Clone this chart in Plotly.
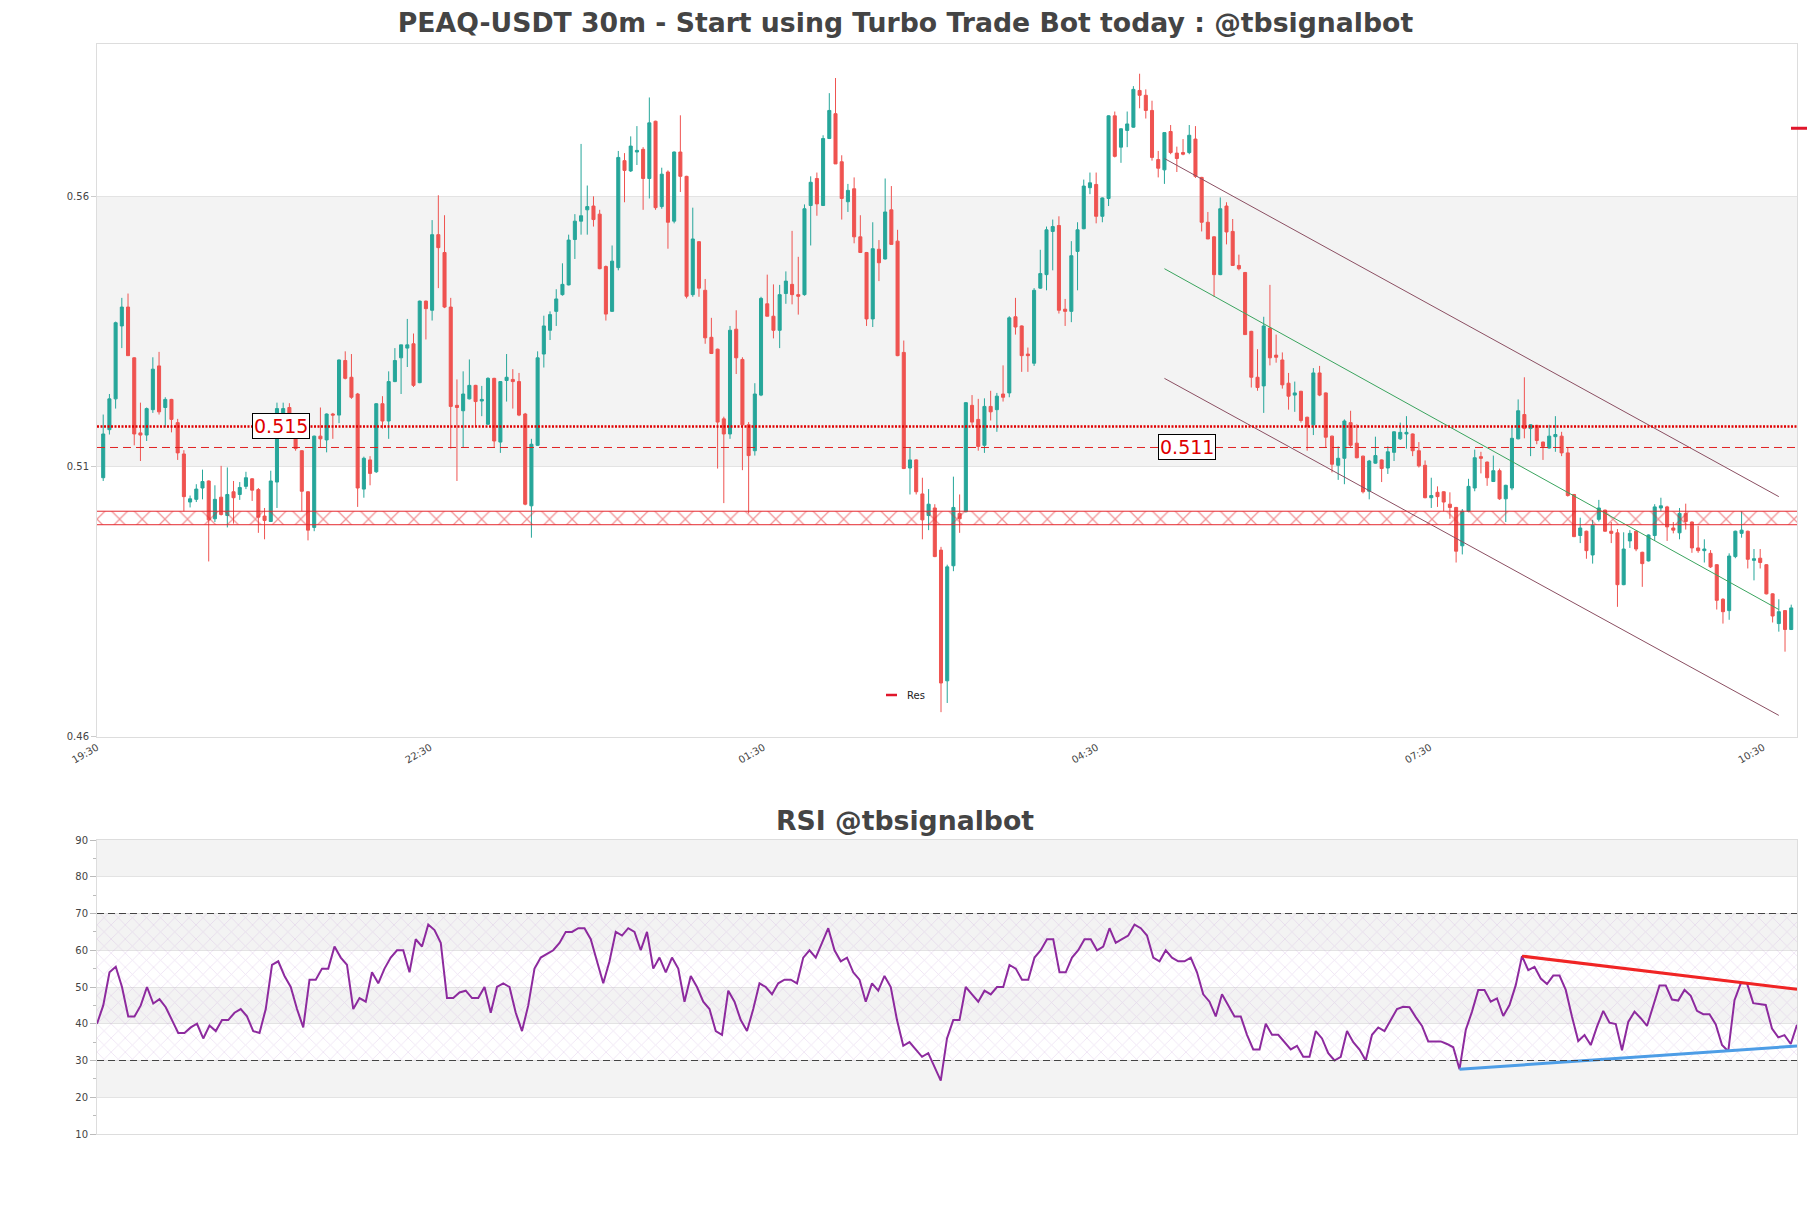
import plotly.graph_objects as go

# ---------------- data ----------------
title_text = "PEAQ-USDT 30m - Start using Turbo Trade Bot today : @tbsignalbot"
rsi_title = "RSI @tbsignalbot"

tick_labels = ["19:30", "22:30", "01:30", "04:30", "07:30", "10:30"]
tick_index = [-1.0, 52.7, 106.4, 160.1, 213.8, 267.5]

opens = [
0.5079, 0.5168, 0.5225, 0.5360, 0.5395, 0.5301, 0.5162, 0.5158, 0.5205, 0.5286,
0.5209, 0.5224, 0.5181, 0.5123, 0.5034, 0.5039, 0.5060, 0.5073, 0.5003, 0.5043,
0.5009, 0.5053, 0.5048, 0.5063, 0.5077, 0.5057, 0.5008, 0.4998, 0.5071, 0.5198,
0.5209, 0.5162, 0.5129, 0.5053, 0.4987, 0.5156, 0.5149, 0.5197, 0.5195, 0.5296,
0.5265, 0.5234, 0.5058, 0.5112, 0.5090, 0.5216, 0.5184, 0.5257, 0.5301, 0.5319,
0.5327, 0.5255, 0.5406, 0.5389, 0.5529, 0.5496, 0.5395, 0.5213, 0.5203, 0.5225,
0.5250, 0.5221, 0.5178, 0.5263, 0.5145, 0.5259, 0.5261, 0.5257, 0.5197, 0.5027,
0.5139, 0.5308, 0.5352, 0.5387, 0.5418, 0.5436, 0.5520, 0.5554, 0.5575, 0.5582,
0.5567, 0.5470, 0.5387, 0.5468, 0.5666, 0.5647, 0.5682, 0.5687, 0.5633, 0.5739,
0.5581, 0.5645, 0.5554, 0.5682, 0.5637, 0.5418, 0.5516, 0.5426, 0.5339, 0.5317,
0.5188, 0.5160, 0.5354, 0.5298, 0.5177, 0.5129, 0.5232, 0.5401, 0.5378, 0.5352,
0.5420, 0.5437, 0.5418, 0.5418, 0.5583, 0.5633, 0.5583, 0.5707, 0.5753, 0.5664,
0.5590, 0.5614, 0.5525, 0.5496, 0.5373, 0.5502, 0.5484, 0.5575, 0.5517, 0.5311,
0.5097, 0.5112, 0.5049, 0.5009, 0.5023, 0.4945, 0.4703, 0.4916, 0.5013, 0.5016,
0.5213, 0.5187, 0.5139, 0.5211, 0.5205, 0.5234, 0.5236, 0.5377, 0.5360, 0.5308,
0.5291, 0.5430, 0.5455, 0.5535, 0.5546, 0.5391, 0.5387, 0.5498, 0.5540, 0.5616,
0.5622, 0.5563, 0.5596, 0.5749, 0.5691, 0.5722, 0.5728, 0.5796, 0.5787, 0.5759,
0.5668, 0.5649, 0.5720, 0.5680, 0.5681, 0.5681, 0.5706, 0.5635, 0.5552, 0.5525,
0.5455, 0.5582, 0.5535, 0.5472, 0.5459, 0.5350, 0.5265, 0.5249, 0.5356, 0.5306,
0.5297, 0.5254, 0.5232, 0.5239, 0.5191, 0.5177, 0.5273, 0.5236, 0.5156, 0.5102,
0.5115, 0.5181, 0.5143, 0.5119, 0.5054, 0.5106, 0.5112, 0.5097, 0.5126, 0.5151,
0.5160, 0.5160, 0.5129, 0.5102, 0.5042, 0.5052, 0.5053, 0.5030, 0.5024, 0.4953,
0.5017, 0.5060, 0.5118, 0.5108, 0.5072, 0.5092, 0.5040, 0.5060, 0.5151, 0.5196,
0.5170, 0.5176, 0.5145, 0.5134, 0.5155, 0.5156, 0.5125, 0.5048, 0.4972, 0.4980,
0.4936, 0.5002, 0.5019, 0.4980, 0.4977, 0.4881, 0.4962, 0.4980, 0.4941, 0.4925,
0.4972, 0.5023, 0.5025, 0.4986, 0.4977, 0.5013, 0.4997, 0.4949, 0.4944, 0.4939,
0.4918, 0.4854, 0.4833, 0.4933, 0.4976, 0.4980, 0.4926, 0.4930, 0.4918, 0.4864,
0.4809, 0.4833, 0.4798,
]

highs = [
0.5196, 0.5234, 0.5368, 0.5412, 0.5420, 0.5302, 0.5218, 0.5209, 0.5302, 0.5312,
0.5228, 0.5225, 0.5188, 0.5130, 0.5046, 0.5067, 0.5094, 0.5074, 0.5065, 0.5101,
0.5098, 0.5073, 0.5071, 0.5090, 0.5078, 0.5060, 0.5023, 0.5092, 0.5218, 0.5218,
0.5217, 0.5166, 0.5130, 0.5054, 0.5157, 0.5209, 0.5198, 0.5199, 0.5298, 0.5313,
0.5308, 0.5236, 0.5118, 0.5119, 0.5217, 0.5230, 0.5276, 0.5319, 0.5325, 0.5373,
0.5346, 0.5407, 0.5407, 0.5556, 0.5602, 0.5565, 0.5412, 0.5261, 0.5276, 0.5298,
0.5251, 0.5249, 0.5265, 0.5264, 0.5258, 0.5308, 0.5280, 0.5273, 0.5199, 0.5151,
0.5313, 0.5379, 0.5387, 0.5428, 0.5476, 0.5529, 0.5567, 0.5697, 0.5620, 0.5600,
0.5575, 0.5472, 0.5509, 0.5684, 0.5680, 0.5711, 0.5730, 0.5691, 0.5783, 0.5740,
0.5653, 0.5648, 0.5683, 0.5750, 0.5638, 0.5579, 0.5517, 0.5447, 0.5375, 0.5318,
0.5192, 0.5360, 0.5389, 0.5302, 0.5182, 0.5254, 0.5414, 0.5455, 0.5437, 0.5436,
0.5461, 0.5536, 0.5488, 0.5585, 0.5637, 0.5644, 0.5713, 0.5791, 0.5819, 0.5676,
0.5623, 0.5635, 0.5565, 0.5497, 0.5552, 0.5519, 0.5633, 0.5619, 0.5538, 0.5333,
0.5135, 0.5113, 0.5079, 0.5058, 0.5030, 0.4951, 0.4918, 0.5081, 0.5048, 0.5219,
0.5232, 0.5225, 0.5226, 0.5240, 0.5236, 0.5287, 0.5378, 0.5412, 0.5361, 0.5320,
0.5430, 0.5501, 0.5544, 0.5557, 0.5563, 0.5410, 0.5517, 0.5552, 0.5631, 0.5644,
0.5644, 0.5598, 0.5750, 0.5757, 0.5726, 0.5757, 0.5804, 0.5827, 0.5798, 0.5777,
0.5684, 0.5718, 0.5732, 0.5692, 0.5706, 0.5732, 0.5730, 0.5636, 0.5571, 0.5526,
0.5598, 0.5589, 0.5558, 0.5492, 0.5460, 0.5351, 0.5317, 0.5377, 0.5436, 0.5344,
0.5311, 0.5273, 0.5257, 0.5240, 0.5192, 0.5282, 0.5286, 0.5237, 0.5157, 0.5137,
0.5187, 0.5203, 0.5178, 0.5120, 0.5112, 0.5155, 0.5113, 0.5137, 0.5165, 0.5181,
0.5193, 0.5161, 0.5145, 0.5111, 0.5079, 0.5063, 0.5054, 0.5052, 0.5025, 0.5021,
0.5077, 0.5131, 0.5127, 0.5109, 0.5120, 0.5096, 0.5066, 0.5174, 0.5224, 0.5265,
0.5178, 0.5177, 0.5146, 0.5177, 0.5193, 0.5164, 0.5135, 0.5049, 0.5005, 0.4981,
0.5001, 0.5038, 0.5020, 0.4997, 0.4984, 0.4978, 0.4982, 0.4981, 0.4942, 0.4974,
0.5030, 0.5042, 0.5027, 0.4997, 0.5023, 0.5031, 0.4998, 0.4990, 0.4965, 0.4945,
0.4919, 0.4856, 0.4939, 0.4981, 0.5017, 0.4981, 0.4947, 0.4947, 0.4919, 0.4865,
0.4854, 0.4834, 0.4844,
]

lows = [
0.5073, 0.5159, 0.5207, 0.5319, 0.5305, 0.5139, 0.5110, 0.5147, 0.5199, 0.5196,
0.5172, 0.5163, 0.5112, 0.5017, 0.5024, 0.5034, 0.5039, 0.4924, 0.4997, 0.5009,
0.4987, 0.4994, 0.5038, 0.5058, 0.5036, 0.4977, 0.4965, 0.4997, 0.5023, 0.5154,
0.5158, 0.5129, 0.5017, 0.4963, 0.4980, 0.5134, 0.5126, 0.5151, 0.5180, 0.5261,
0.5225, 0.5025, 0.5042, 0.5065, 0.5088, 0.5170, 0.5151, 0.5256, 0.5234, 0.5284,
0.5247, 0.5254, 0.5335, 0.5370, 0.5430, 0.5393, 0.5133, 0.5073, 0.5135, 0.5224,
0.5174, 0.5193, 0.5177, 0.5135, 0.5125, 0.5220, 0.5207, 0.5193, 0.5028, 0.4968,
0.5138, 0.5283, 0.5334, 0.5360, 0.5416, 0.5435, 0.5484, 0.5529, 0.5529, 0.5544,
0.5465, 0.5370, 0.5386, 0.5463, 0.5589, 0.5645, 0.5658, 0.5575, 0.5596, 0.5575,
0.5577, 0.5503, 0.5550, 0.5608, 0.5411, 0.5414, 0.5414, 0.5327, 0.5308, 0.5096,
0.5032, 0.5151, 0.5271, 0.5093, 0.5013, 0.5120, 0.5230, 0.5378, 0.5337, 0.5319,
0.5401, 0.5400, 0.5381, 0.5416, 0.5509, 0.5564, 0.5582, 0.5706, 0.5660, 0.5557,
0.5571, 0.5513, 0.5495, 0.5360, 0.5358, 0.5443, 0.5483, 0.5511, 0.5304, 0.5095,
0.5048, 0.5048, 0.4965, 0.4982, 0.4932, 0.4645, 0.4662, 0.4906, 0.4977, 0.5015,
0.5174, 0.5129, 0.5125, 0.5185, 0.5164, 0.5220, 0.5228, 0.5344, 0.5275, 0.5275,
0.5286, 0.5429, 0.5426, 0.5463, 0.5383, 0.5360, 0.5367, 0.5426, 0.5539, 0.5604,
0.5550, 0.5552, 0.5582, 0.5672, 0.5662, 0.5691, 0.5727, 0.5763, 0.5744, 0.5666,
0.5635, 0.5623, 0.5678, 0.5645, 0.5676, 0.5678, 0.5634, 0.5535, 0.5521, 0.5414,
0.5454, 0.5511, 0.5471, 0.5463, 0.5344, 0.5246, 0.5240, 0.5199, 0.5287, 0.5292,
0.5244, 0.5205, 0.5201, 0.5181, 0.5129, 0.5158, 0.5230, 0.5135, 0.5089, 0.5075,
0.5067, 0.5135, 0.5115, 0.5050, 0.5039, 0.5105, 0.5071, 0.5086, 0.5110, 0.5149,
0.5133, 0.5119, 0.5098, 0.5041, 0.5023, 0.5025, 0.5017, 0.5003, 0.4922, 0.4937,
0.5015, 0.5054, 0.5087, 0.5064, 0.5071, 0.5038, 0.4997, 0.5056, 0.5150, 0.5152,
0.5119, 0.5141, 0.5112, 0.5133, 0.5127, 0.5119, 0.5044, 0.4969, 0.4958, 0.4929,
0.4920, 0.4998, 0.4979, 0.4958, 0.4840, 0.4880, 0.4949, 0.4943, 0.4877, 0.4924,
0.4962, 0.5017, 0.4962, 0.4976, 0.4965, 0.4983, 0.4940, 0.4940, 0.4922, 0.4912,
0.4835, 0.4809, 0.4816, 0.4930, 0.4968, 0.4911, 0.4889, 0.4911, 0.4863, 0.4811,
0.4794, 0.4757, 0.4797,
]

closes = [
0.5160, 0.5225, 0.5366, 0.5395, 0.5305, 0.5160, 0.5158, 0.5207, 0.5280, 0.5201,
0.5224, 0.5187, 0.5125, 0.5044, 0.5040, 0.5058, 0.5072, 0.5001, 0.5039, 0.5011,
0.5048, 0.5042, 0.5061, 0.5079, 0.5056, 0.5006, 0.5000, 0.5073, 0.5207, 0.5207,
0.5162, 0.5133, 0.5054, 0.4982, 0.5156, 0.5151, 0.5197, 0.5195, 0.5297, 0.5263,
0.5228, 0.5060, 0.5115, 0.5087, 0.5216, 0.5184, 0.5257, 0.5296, 0.5325, 0.5325,
0.5250, 0.5406, 0.5392, 0.5529, 0.5505, 0.5395, 0.5211, 0.5209, 0.5234, 0.5250,
0.5220, 0.5224, 0.5263, 0.5147, 0.5257, 0.5265, 0.5257, 0.5195, 0.5030, 0.5141,
0.5301, 0.5360, 0.5381, 0.5410, 0.5437, 0.5519, 0.5554, 0.5564, 0.5581, 0.5557,
0.5466, 0.5382, 0.5480, 0.5672, 0.5648, 0.5693, 0.5685, 0.5633, 0.5736, 0.5579,
0.5641, 0.5552, 0.5682, 0.5637, 0.5415, 0.5521, 0.5430, 0.5338, 0.5309, 0.5182,
0.5160, 0.5352, 0.5301, 0.5177, 0.5120, 0.5234, 0.5411, 0.5378, 0.5352, 0.5418,
0.5443, 0.5418, 0.5415, 0.5577, 0.5626, 0.5586, 0.5707, 0.5759, 0.5660, 0.5596,
0.5611, 0.5525, 0.5496, 0.5373, 0.5503, 0.5477, 0.5571, 0.5511, 0.5305, 0.5096,
0.5112, 0.5053, 0.5001, 0.5030, 0.4933, 0.4699, 0.4914, 0.5024, 0.5003, 0.5218,
0.5182, 0.5137, 0.5211, 0.5201, 0.5230, 0.5228, 0.5375, 0.5358, 0.5305, 0.5305,
0.5426, 0.5457, 0.5538, 0.5544, 0.5389, 0.5387, 0.5490, 0.5538, 0.5619, 0.5625,
0.5563, 0.5597, 0.5749, 0.5674, 0.5725, 0.5734, 0.5798, 0.5787, 0.5759, 0.5672,
0.5652, 0.5718, 0.5681, 0.5670, 0.5678, 0.5713, 0.5637, 0.5552, 0.5521, 0.5455,
0.5577, 0.5534, 0.5472, 0.5466, 0.5344, 0.5265, 0.5246, 0.5360, 0.5301, 0.5302,
0.5251, 0.5230, 0.5236, 0.5185, 0.5174, 0.5273, 0.5232, 0.5154, 0.5104, 0.5115,
0.5184, 0.5139, 0.5116, 0.5053, 0.5110, 0.5120, 0.5096, 0.5127, 0.5164, 0.5163,
0.5163, 0.5129, 0.5101, 0.5042, 0.5046, 0.5044, 0.5034, 0.5024, 0.4943, 0.5017,
0.5063, 0.5116, 0.5115, 0.5079, 0.5092, 0.5040, 0.5065, 0.5152, 0.5203, 0.5170,
0.5177, 0.5148, 0.5137, 0.5156, 0.5159, 0.5125, 0.5046, 0.4970, 0.4986, 0.4944,
0.4991, 0.5023, 0.4980, 0.4976, 0.4881, 0.4947, 0.4976, 0.4947, 0.4920, 0.4973,
0.5025, 0.5027, 0.4988, 0.4982, 0.5013, 0.4998, 0.4949, 0.4944, 0.4947, 0.4914,
0.4852, 0.4831, 0.4934, 0.4980, 0.4982, 0.4928, 0.4929, 0.4922, 0.4864, 0.4823,
0.4831, 0.4798, 0.4838,
]

rsi = [
40, 45, 54, 55.5, 50, 42, 42, 45, 50, 45.5,
46.7, 44.5, 41, 37.5, 37.5, 39, 40, 36, 39.5, 38,
41, 41, 43, 44, 42, 38, 37.5, 44, 56, 57,
53, 50, 44, 39, 52, 52, 55, 55, 61, 58,
56, 44, 47, 46, 54, 51, 55, 58, 60, 60,
54, 63, 61, 67, 65.5, 62, 47, 47, 48.5, 49,
47, 47, 50, 43, 50, 51, 50, 43, 38, 45,
55, 58, 59, 60, 62, 65, 65, 66, 66, 63,
57, 51, 57, 65, 64, 66, 65, 60, 65, 55,
58, 54, 58, 55, 46, 53, 50, 46, 44, 38,
37, 49, 46, 41, 38, 44, 51, 50, 48, 51,
52, 52, 51, 58, 60, 58, 62, 66, 60, 57,
58, 54, 52, 46, 51, 49, 53, 50, 41, 34,
35, 33, 31, 32, 28, 24.5, 36, 41, 41, 50,
48, 46, 49, 48, 50, 50, 56, 55, 52, 52,
58, 60, 63, 63, 54, 54, 58, 60, 63, 63,
60, 61, 66, 62, 63, 64, 67, 66, 64, 58,
57, 60, 58, 57, 57, 58, 54, 48, 46, 42,
48, 45, 42, 42, 37, 33, 33, 40, 37, 37,
35, 33, 34, 31, 31, 38, 36, 32, 30, 31,
38, 35, 33, 30, 37, 39, 38, 41, 44, 44.6,
44.5, 41.8, 39.4, 35.2, 35.3, 35.2, 34.5, 33.6, 27.6, 38.3,
43.3, 49.2, 49.2, 46, 46.9, 42.1, 45.1, 50.5, 58.4, 54.6,
55.5, 52.3, 50.8, 53.1, 53.1, 49.2, 41.9, 35.3, 36.9, 34.2,
39.2, 43.5, 40.3, 39.9, 32.8, 40.5, 43.3, 41.5, 39.4, 44.6,
50.4, 50.4, 46.6, 46.3, 49.2, 47.6, 43.5, 42.6, 42.6, 39.8,
34.2, 32.5, 46.4, 51, 51, 45.6, 45.4, 45.1, 38.7, 36.3,
36.9, 34.5, 39.7,
]

# levels / channel / trendlines
level_dotted = 0.5174
level_dashed = 0.5135
level_labels = ["0.515", "0.511"]
label_x = [28.6, 174.7]
zone_top = 0.5017
zone_bottom = 0.4992
res_level = 0.5726
channel_x = [171, 270]
channel_upper = [0.5670, 0.5044]
channel_mid = [0.5466, 0.4835]
channel_lower = [0.5263, 0.4639]
rsi_res_x = [228, 272]
rsi_res_y = [58.4, 49.4]
rsi_sup_x = [218, 272]
rsi_sup_y = [27.6, 33.95]

# ---------------- figure ----------------
n = len(closes)
idx = list(range(n))
FONT = "DejaVu Sans"
X_MAIN_RANGE = [-1.0, n - 1 + 0.93]
Y_MAIN_RANGE = [0.4599, 0.5882]

fig = go.Figure()

# hatched red zone
fig.add_trace(go.Scatter(
    x=[-10, n + 10, n + 10, -10, -10],
    y=[zone_top, zone_top, zone_bottom, zone_bottom, zone_top],
    fill="toself", mode="lines", line=dict(width=0),
    fillcolor="rgba(0,0,0,0)",
    fillpattern=dict(shape="x", fgcolor="#e4282e", bgcolor="rgba(0,0,0,0)",
                     size=16, solidity=0.15),
    hoverinfo="skip", showlegend=False, xaxis="x", yaxis="y"))

# RSI hatch 30-70
fig.add_trace(go.Scatter(
    x=[-10, n + 10, n + 10, -10, -10],
    y=[70, 70, 30, 30, 70],
    fill="toself", mode="lines", line=dict(width=0),
    fillcolor="rgba(0,0,0,0)",
    fillpattern=dict(shape="x", fgcolor="rgba(195,155,215,0.6)", bgcolor="rgba(0,0,0,0)",
                     size=10, solidity=0.15),
    hoverinfo="skip", showlegend=False, xaxis="x2", yaxis="y2"))

# channel lines
fig.add_trace(go.Scatter(x=channel_x, y=channel_upper, mode="lines",
                         line=dict(color="#8b4f62", width=1), showlegend=False,
                         xaxis="x", yaxis="y", hoverinfo="skip"))
fig.add_trace(go.Scatter(x=channel_x, y=channel_lower, mode="lines",
                         line=dict(color="#8b4f62", width=1), showlegend=False,
                         xaxis="x", yaxis="y", hoverinfo="skip"))
fig.add_trace(go.Scatter(x=channel_x, y=channel_mid, mode="lines",
                         line=dict(color="#3aa45e", width=1), showlegend=False,
                         xaxis="x", yaxis="y", hoverinfo="skip"))

# candles
fig.add_trace(go.Candlestick(
    x=idx, open=opens, high=highs, low=lows, close=closes,
    increasing=dict(line=dict(color="#26a69a", width=1), fillcolor="#26a69a"),
    decreasing=dict(line=dict(color="#ef5350", width=1), fillcolor="#ef5350"),
    whiskerwidth=0, showlegend=False, xaxis="x", yaxis="y"))

# RSI line and trendlines
fig.add_trace(go.Scatter(x=idx, y=rsi, mode="lines",
                         line=dict(color="#8d2a9e", width=2), showlegend=False,
                         xaxis="x2", yaxis="y2"))
fig.add_trace(go.Scatter(x=rsi_res_x, y=rsi_res_y, mode="lines",
                         line=dict(color="#f02424", width=3), showlegend=False,
                         xaxis="x2", yaxis="y2"))
fig.add_trace(go.Scatter(x=rsi_sup_x, y=rsi_sup_y, mode="lines",
                         line=dict(color="#4d9de6", width=3), showlegend=False,
                         xaxis="x2", yaxis="y2"))

shapes = []
shapes.append(dict(type="rect", xref="x domain", yref="y", x0=0, x1=1, y0=0.51, y1=0.56,
                   fillcolor="#f3f3f3", line_width=0, layer="below"))
for lo in [80, 60, 40, 20]:
    shapes.append(dict(type="rect", xref="x2 domain", yref="y2", x0=0, x1=1, y0=lo, y1=lo + 10,
                       fillcolor="#f3f3f3", line_width=0, layer="below"))
for yv in [zone_top, zone_bottom]:
    shapes.append(dict(type="line", xref="x domain", yref="y", x0=0, x1=1, y0=yv, y1=yv,
                       line=dict(color="#e4282e", width=1)))
shapes.append(dict(type="line", xref="x domain", yref="y", x0=0, x1=1,
                   y0=level_dotted, y1=level_dotted,
                   line=dict(color="#e00000", width=2.5, dash="2px,1.5px")))
shapes.append(dict(type="line", xref="x domain", yref="y", x0=0, x1=1,
                   y0=level_dashed, y1=level_dashed,
                   line=dict(color="#e02020", width=1, dash="8px,5px")))
for yv in [70, 30]:
    shapes.append(dict(type="line", xref="x2 domain", yref="y2", x0=0, x1=1, y0=yv, y1=yv,
                       line=dict(color="#444444", width=1.2, dash="7px,4px")))

W, H = 1811, 1208
ML, MR, MT, MB = 97, 14, 44, 74
PW, PH = W - ML - MR, H - MT - MB
def px_x(px):
    return (px - ML) / PW
def px_y(py):
    return (H - MB - py) / PH

main_dom = [px_y(737), 1.0]
rsi_dom = [0.0, px_y(840)]

y_res_paper = main_dom[0] + (res_level - Y_MAIN_RANGE[0]) / (Y_MAIN_RANGE[1] - Y_MAIN_RANGE[0]) * (main_dom[1] - main_dom[0])
shapes.append(dict(type="line", xref="paper", yref="paper", x0=px_x(1791), x1=px_x(1807),
                   y0=y_res_paper, y1=y_res_paper, line=dict(color="#e0162b", width=3)))
shapes.append(dict(type="line", xref="paper", yref="paper", x0=px_x(886), x1=px_x(897),
                   y0=px_y(695), y1=px_y(695), line=dict(color="#e0162b", width=2.5)))

annotations = [
    dict(x=label_x[0], y=level_dotted, xref="x", yref="y", text=level_labels[0],
         showarrow=False, font=dict(family=FONT, size=19, color="#e00000"),
         bgcolor="white", bordercolor="black", borderwidth=1, borderpad=1),
    dict(x=label_x[1], y=level_dashed, xref="x", yref="y", text=level_labels[1],
         showarrow=False, font=dict(family=FONT, size=19, color="#e00000"),
         bgcolor="white", bordercolor="black", borderwidth=1, borderpad=1),
    dict(x=px_x(905), y=px_y(820), xref="paper", yref="paper", text="<b>" + rsi_title + "</b>",
         showarrow=False, font=dict(family=FONT, size=26.7, color="#444444"),
         xanchor="center", yanchor="middle"),
    dict(x=px_x(905), y=px_y(695), xref="paper", yref="paper", text="Res",
         showarrow=False, font=dict(family=FONT, size=10, color="#222222"),
         xanchor="left", yanchor="middle"),
]

axis_font = dict(family=FONT, size=10, color="#444444")

fig.update_layout(
    width=W, height=H,
    margin=dict(l=ML, r=MR, t=MT, b=MB),
    paper_bgcolor="white", plot_bgcolor="white",
    showlegend=False,
    title=dict(text="<b>" + title_text + "</b>", x=0.5, xanchor="center",
               y=1 - 23 / H, yanchor="middle", yref="container",
               font=dict(family=FONT, size=26.7, color="#444444")),
    xaxis=dict(domain=[0, 1], anchor="y", range=X_MAIN_RANGE,
               rangeslider=dict(visible=False),
               tickmode="array", tickvals=tick_index, ticktext=tick_labels,
               tickangle=-30, tickfont=axis_font, showgrid=False, zeroline=False,
               showline=True, mirror=True, linecolor="#dddddd", ticks=""),
    yaxis=dict(domain=main_dom, anchor="x", range=Y_MAIN_RANGE,
               tickmode="array", tickvals=[0.46, 0.51, 0.56], ticktext=["0.46", "0.51", "0.56"],
               tickfont=axis_font, showgrid=True, gridcolor="#e3e3e3", zeroline=False,
               showline=True, mirror=True, linecolor="#dddddd",
               ticks="outside", ticklen=5, tickcolor="#cccccc"),
    xaxis2=dict(domain=[0, 1], anchor="y2", range=[0, n - 1], showticklabels=False,
                showgrid=False, zeroline=False, showline=True, mirror=True,
                linecolor="#dddddd", ticks=""),
    yaxis2=dict(domain=rsi_dom, anchor="x2", range=[10, 90], tickmode="linear",
                tick0=10, dtick=10, tickfont=axis_font, showgrid=True, gridcolor="#e3e3e3",
                zeroline=False, showline=True, mirror=True, linecolor="#dddddd",
                ticks="outside", ticklen=6, tickcolor="#bbbbbb",
                minor=dict(dtick=5, ticks="outside", ticklen=3, tickcolor="#bbbbbb", showgrid=False)),
    shapes=shapes,
    annotations=annotations,
)

fig.write_html("out.html")
